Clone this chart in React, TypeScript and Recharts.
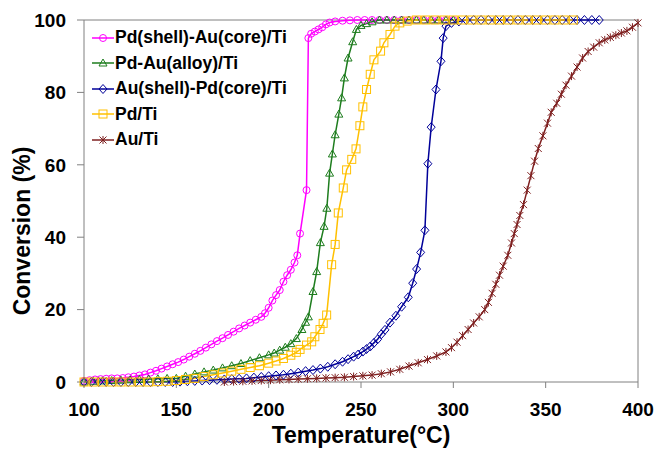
import { LineChart, Line, XAxis, YAxis, ReferenceLine } from 'recharts';

// Pd(shell)-Au(core)/Ti
const pdShellTemp = [
  100, 103, 106, 109, 112, 115, 118, 121, 124, 127, 130, 133, 136, 139, 142, 145, 148, 151, 154, 157,
  160, 163, 166, 169, 172, 175, 178, 181, 184, 187, 190, 193, 196, 198, 200, 202, 204, 206, 208, 210,
  212, 214, 215.5, 217, 220.5, 221.5, 223, 225, 227, 229, 231, 233, 236, 240, 244, 248, 252, 256, 260,
  264, 268, 272, 276, 280, 284, 288, 292, 296, 300,
];
const pdShellConv = [
  0.3, 0.5, 0.7, 0.8, 0.9, 1.0, 1.0, 1.1, 1.3, 1.5, 1.8, 2.1, 2.6, 3.1, 3.7, 4.3, 4.9, 5.5, 6.2, 7.0,
  7.8, 8.6, 9.5, 10.4, 11.3, 12.1, 13.0, 13.9, 14.8, 15.6, 16.4, 17.2, 18.0, 19.0, 20.5, 22.5, 24.0, 25.4, 27.7, 29.5,
  31.0, 33.0, 35.0, 41.0, 53.0, 95.0, 96.2, 96.8, 97.4, 98.0, 98.8, 99.3, 99.6, 99.8, 99.9, 100, 100, 100, 100,
  100, 100, 100, 100, 100, 100, 100, 100, 100, 100,
];

// Pd-Au(alloy)/Ti
const alloyTemp = [
  100, 105, 110, 115, 120, 125, 130, 135, 140, 145, 150, 155, 160, 165, 170, 175, 180, 185, 190, 195,
  200, 203, 206, 209, 212, 215, 218, 220, 221.5, 224, 226, 228, 230, 231.5, 233, 234.5, 236, 238, 239.5, 241,
  243, 245.5, 247.5, 250, 253, 256, 260, 264, 268, 272, 276, 280, 284, 288, 292, 296, 300,
];
const alloyConv = [
  0, 0.2, 0.3, 0.4, 0.5, 0.6, 0.7, 0.8, 0.9, 1.0, 1.0, 1.6, 2.2, 2.8, 3.3, 3.9, 4.5, 5.1, 5.9, 6.7,
  7.5, 8.0, 8.8, 9.6, 10.6, 12.0, 14.5, 16.5, 18.0, 25.0, 30.5, 38.5, 43.0, 48.0, 57.7, 63.0, 68.3, 74.0, 78.5, 84.0,
  89.5, 94.0, 97.4, 98.5, 99.0, 99.5, 100, 100, 100, 100, 100, 100, 100, 100, 100, 100, 100,
];

// Au(shell)-Pd(core)/Ti
const auShellTemp = [
  100, 104, 108, 112, 116, 120, 124, 128, 132, 136, 140, 144, 148, 152, 156, 160, 164, 168, 172, 176,
  180, 184, 188, 192, 196, 200, 204, 208, 212, 216, 220, 224, 228, 232, 236, 240, 243, 246, 248.5, 251,
  253, 255, 257, 259, 261, 263, 265.7, 268.9, 272, 275.6, 278, 280.1, 282.3, 284.6, 286.2, 288, 290.6, 293.3, 294.5, 296,
  299, 303, 307, 311, 315, 319, 323, 327, 331, 335, 339, 343, 347, 351, 355, 359, 363, 367, 371, 375, 379,
];
const auShellConv = [
  0, 0, 0, 0, 0, 0, 0, 0, 0, 0, 0, 0, 0, 0.1, 0.2, 0.3, 0.4, 0.5, 0.6, 0.7,
  0.8, 0.9, 1.0, 1.2, 1.4, 1.6, 1.8, 2.0, 2.3, 2.6, 3.0, 3.3, 3.7, 4.2, 4.9, 5.6, 6.3, 7.0, 7.6, 8.4,
  9.1, 9.8, 10.8, 11.8, 13.2, 14.4, 16.4, 18.3, 20.8, 23.4, 27.3, 31.2, 35.8, 41.9, 60.3, 70.4, 80.8, 88.6, 95.0, 98.3,
  99.2, 99.6, 100, 100, 100, 100, 100, 100, 100, 100, 100, 100, 100, 100, 100, 100, 100, 100, 100, 100, 100,
];

// Pd/Ti
const pdTemp = [
  100, 105, 110, 115, 120, 125, 130, 135, 140, 145, 150, 155, 160, 165, 170, 175, 180, 185, 190, 195,
  200, 204, 208, 212, 215, 217, 220.5, 223.3, 225, 227.8, 229.5, 231.4, 234.1, 236, 237.7, 240.4, 242.2, 245, 247.3, 249.4,
  251, 253, 255, 257, 260.6, 262.4, 265.7, 268.4, 271, 275, 280, 285, 290, 295, 300, 305, 310, 315, 320, 325,
  330, 335, 340, 345, 350, 355, 360, 365,
];
const pdConv = [
  0, 0, 0, 0, 0, 0, 0, 0, 0.1, 0.2, 0.4, 0.7, 1.0, 1.5, 2.0, 2.5, 3.0, 3.5, 4.0, 4.5,
  5.2, 5.8, 6.5, 7.4, 8.2, 9.0, 10.2, 11.1, 12.5, 14.5, 16.2, 18.5, 32.4, 38.0, 46.7, 53.6, 58.6, 61.5, 64.4, 70.8,
  76.0, 80.8, 85.0, 89.0, 91.4, 93.7, 96.0, 98.3, 99.2, 99.7, 100, 100, 100, 100, 100, 100, 100, 100, 100, 100,
  100, 100, 100, 100, 100, 100, 100, 100,
];

// Au/Ti
const auTemp = [
  176, 181, 186, 191, 196, 201, 206, 211, 216, 221, 226, 231, 236, 241, 246, 251, 256, 261, 266, 271,
  276, 281, 286, 291, 296, 299, 302, 305, 308, 311, 314, 317, 319, 321, 323, 325, 327, 329.5, 331.5, 333,
  334.5, 336, 338, 340, 342, 344, 346, 348.5, 351, 353, 356, 358.5, 361, 364, 367, 370, 373, 376, 379, 382,
  385, 388, 391, 394, 397, 400,
];
const auConv = [
  0, 0.1, 0.2, 0.3, 0.4, 0.5, 0.6, 0.7, 0.8, 0.9, 1.0, 1.1, 1.2, 1.3, 1.5, 1.7, 1.9, 2.3, 2.8, 3.5,
  4.4, 5.3, 6.2, 7.2, 8.3, 9.5, 11, 12.8, 14.5, 16.3, 18, 20, 22, 24.5, 27, 29.5, 32, 35, 38.4, 41,
  43.5, 46, 49, 53, 57, 61, 64.5, 68, 71.5, 74.5, 77, 79.5, 82, 84.5, 87, 89.5, 91.3, 92.5, 93.7, 94.5,
  95.2, 95.8, 96.4, 97, 98, 99.2,
];

const xTicks = [100, 150, 200, 250, 300, 350, 400];
const yTicks = [0, 20, 40, 60, 80, 100];

const zip = (t: number[], c: number[]) => t.map((temp, i) => ({ temp, conv: c[i] }));

const FONT = '"Liberation Sans", Arial, sans-serif';

type Shape = 'circle' | 'triangle' | 'diamond' | 'square' | 'star';

const series: { name: string; color: string; shape: Shape; data: { temp: number; conv: number }[] }[] = [
  { name: 'Pd(shell)-Au(core)/Ti', color: '#FF00FF', shape: 'circle', data: zip(pdShellTemp, pdShellConv) },
  { name: 'Pd-Au(alloy)/Ti', color: '#1E7D1E', shape: 'triangle', data: zip(alloyTemp, alloyConv) },
  { name: 'Au(shell)-Pd(core)/Ti', color: '#000099', shape: 'diamond', data: zip(auShellTemp, auShellConv) },
  { name: 'Pd/Ti', color: '#FFC000', shape: 'square', data: zip(pdTemp, pdConv) },
  { name: 'Au/Ti', color: '#7F2020', shape: 'star', data: zip(auTemp, auConv) },
];

const drawMarker = (shape: Shape, color: string, cx: number, cy: number, key?: any) => {
  const common = { fill: 'none', stroke: color, strokeWidth: 1 };
  switch (shape) {
    case 'circle':
      return <circle key={key} cx={cx} cy={cy} r={3.5} {...common} />;
    case 'triangle':
      return <polygon key={key} points={`${cx},${cy - 4} ${cx - 4},${cy + 3} ${cx + 4},${cy + 3}`} {...common} />;
    case 'diamond':
      return <polygon key={key} points={`${cx},${cy - 4.5} ${cx + 4},${cy} ${cx},${cy + 4.5} ${cx - 4},${cy}`} {...common} />;
    case 'square':
      return <rect key={key} x={cx - 4} y={cy - 4} width={8} height={8} {...common} />;
    default:
      return (
        <path
          key={key}
          d={`M${cx - 3.5},${cy - 3.5}L${cx + 3.5},${cy + 3.5}M${cx - 3.5},${cy + 3.5}L${cx + 3.5},${cy - 3.5}M${cx},${cy - 4}L${cx},${cy + 4}`}
          {...common}
        />
      );
  }
};

const dotFor = (shape: Shape, color: string) => (props: any) => {
  const { cx, cy, index } = props;
  if (cx == null || cy == null) return <g key={`e${index}`} />;
  return drawMarker(shape, color, cx, cy, `d${index}`);
};

const tickStyle = { fontFamily: FONT, fontSize: 19, fontWeight: 'bold', fill: '#000' };

export default function App() {
  return (
    <div style={{ position: 'absolute', left: 0, top: 0, width: 658, height: 449, background: '#fff' }}>
      <LineChart width={658} height={449} margin={{ top: 20, right: 20, left: 0, bottom: 0 }}>
        <XAxis
          type="number"
          dataKey="temp"
          domain={[100, 400]}
          ticks={xTicks}
          stroke="#808080"
          tickSize={6}
          tickMargin={15}
          height={67}
          tick={tickStyle}
          label={{
            value: 'Temperature(°C)',
            position: 'insideBottom',
            offset: 6,
            style: { fontFamily: FONT, fontSize: 23, fontWeight: 'bold', fill: '#000' },
          }}
        />
        <YAxis
          type="number"
          dataKey="conv"
          domain={[0, 100]}
          ticks={yTicks}
          stroke="#808080"
          tickSize={7}
          tickMargin={11}
          width={84}
          tick={tickStyle}
          label={{
            value: 'Conversion (%)',
            angle: -90,
            position: 'center',
            dx: -20,
            dy: 30,
            style: { fontFamily: FONT, fontSize: 23, fontWeight: 'bold', fill: '#000' },
          }}
        />
        <ReferenceLine y={100} stroke="#808080" />
        <ReferenceLine x={400} stroke="#808080" />
        {series.map((s) => (
          <Line
            key={s.name}
            data={s.data}
            dataKey="conv"
            name={s.name}
            type="linear"
            stroke={s.color}
            strokeWidth={1.5}
            dot={dotFor(s.shape, s.color)}
            isAnimationActive={false}
          />
        ))}
      </LineChart>
      <div style={{ position: 'absolute', left: 92, top: 25, fontFamily: FONT }}>
        {series.map((s) => (
          <div key={s.name} style={{ display: 'flex', alignItems: 'center', height: 25.5 }}>
            <svg width={22} height={14} style={{ marginRight: 1 }}>
              <line x1={0} y1={7} x2={22} y2={7} stroke={s.color} strokeWidth={1.5} />
              {drawMarker(s.shape, s.color, 11, 7)}
            </svg>
            <span style={{ fontSize: 17.5, fontWeight: 'bold', color: '#000', whiteSpace: 'nowrap' }}>{s.name}</span>
          </div>
        ))}
      </div>
    </div>
  );
}
